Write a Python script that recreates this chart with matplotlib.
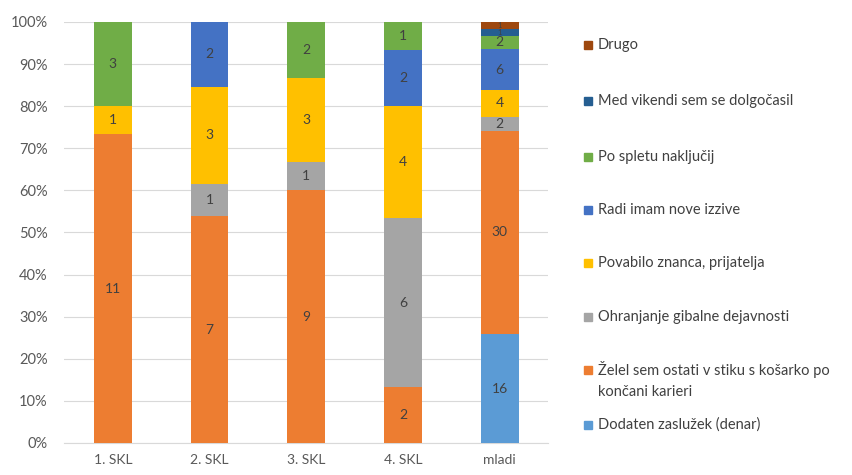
import numpy as np
import matplotlib
matplotlib.use('Agg')
import matplotlib.pyplot as plt
from matplotlib.patches import Rectangle
from matplotlib.ticker import PercentFormatter

plt.rcParams['font.family'] = ['Lato', 'DejaVu Sans']

categories = ['1. SKL', '2. SKL', '3. SKL', '4. SKL', 'mladi']

# counts per answer, bottom of the stack first
series_names = [
    'Dodaten zaslužek (denar)',
    'Želel sem ostati v stiku s košarko po\nkončani karieri',
    'Ohranjanje gibalne dejavnosti',
    'Povabilo znanca, prijatelja',
    'Radi imam nove izzive',
    'Po spletu naključij',
    'Med vikendi sem se dolgočasil',
    'Drugo',
]
dodaten = [0, 0, 0, 0, 16]
zelel = [11, 7, 9, 2, 30]
ohranjanje = [0, 1, 1, 6, 2]
povabilo = [1, 3, 3, 4, 4]
radi_imam = [0, 2, 0, 2, 6]
po_spletu = [3, 0, 2, 1, 2]
med_vikendi = [0, 0, 0, 0, 1]
drugo = [0, 0, 0, 0, 1]

colors = ['#5B9BD5', '#ED7D31', '#A5A5A5', '#FFC000', '#4472C4', '#70AD47', '#255E91', '#9E480E']

counts = np.array([dodaten, zelel, ohranjanje, povabilo, radi_imam, po_spletu, med_vikendi, drugo], dtype=float)
totals = counts.sum(axis=0)
shares = counts / totals * 100

W, H = 853, 475
fig = plt.figure(figsize=(W / 100, H / 100), dpi=100)
ax = fig.add_axes([0.0756, 0.0674, 0.567, 0.8863])

x = np.arange(len(categories))
bottom = np.zeros(len(categories))
for name, vals, cnt, col in zip(series_names, shares, counts, colors):
    ax.bar(x, vals, 0.39, bottom=bottom, color=col, label=name, zorder=3)
    for xi, b, v, c in zip(x, bottom, vals, cnt):
        if c > 0:
            # tiny slices get a smaller label so they don't collide
            fs = 10 if v > 2.5 else 5.5
            ax.text(xi, b + v / 2, '%d' % c, ha='center', va='center',
                    fontsize=fs, color='#404040', zorder=4)
    bottom += vals

ax.set_xlim(-0.5, len(categories) - 0.5)
ax.set_ylim(0, 100)
ax.set_yticks(np.arange(0, 101, 10))
ax.yaxis.set_major_formatter(PercentFormatter(decimals=0))
ax.set_xticks(x)
ax.set_xticklabels(categories)
ax.tick_params(axis='x', length=0, labelsize=10, colors='#595959', pad=8)
ax.tick_params(axis='y', length=0, labelsize=10.5, colors='#595959', pad=12)
ax.grid(axis='y', color='#D9D9D9', linewidth=0.8, zorder=0)
for s in ['top', 'right', 'left']:
    ax.spines[s].set_visible(False)
ax.spines['bottom'].set_color('#D9D9D9')

# legend laid out like the Excel one, top entry first
legend_y = [45, 101, 157, 210, 263, 317, 370, 425]
for (name, col), py in zip(list(zip(series_names, colors))[::-1], legend_y):
    fig.patches.append(Rectangle((584 / W, 1 - (py + 4) / H), 8 / W, 8 / H,
                                 transform=fig.transFigure, color=col))
    fig.text(598 / W, 1 - py / H, name.split('\n')[0], fontsize=10.5,
             color='#404040', va='center', ha='left')
    if '\n' in name:
        fig.text(598 / W, 1 - (py + 22) / H, name.split('\n')[1], fontsize=10.5,
                 color='#404040', va='center', ha='left')

fig.savefig('out.png', dpi=100)
